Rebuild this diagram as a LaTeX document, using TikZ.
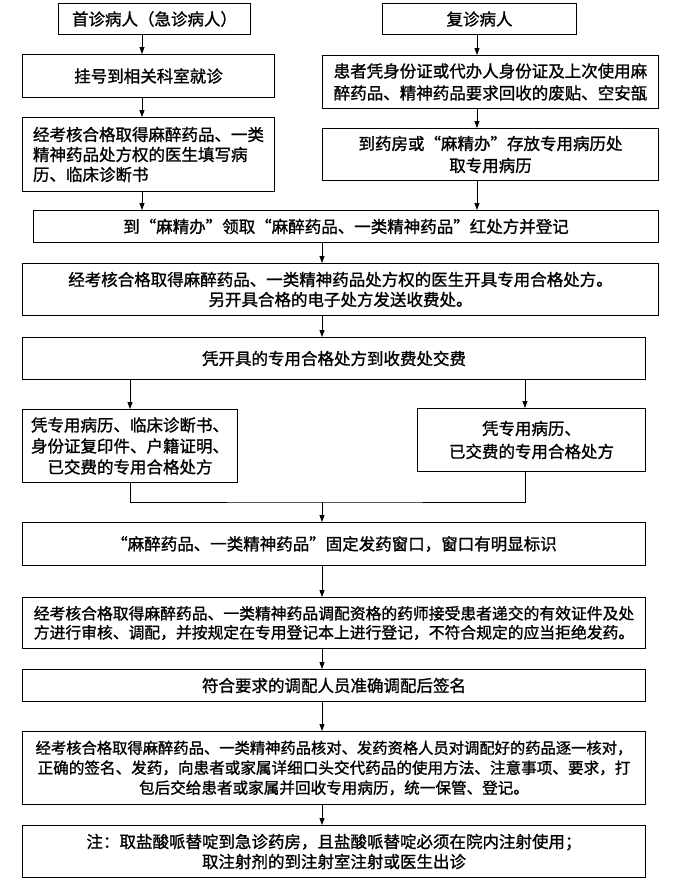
\documentclass[tikz,border=0pt]{standalone}
\usepackage{fontspec}
\setmainfont{Noto Sans CJK SC}[FakeBold=1.2]
\usetikzlibrary{arrows.meta}
\tikzset{
  box/.style={draw, line width=1pt, inner sep=0pt, anchor=north west, align=center,
    font=\fontsize{16.5}{20}\selectfont},
  arr/.style={line width=0.8pt, -{Triangle[width=5pt,length=7pt]}},
  ln/.style={line width=0.8pt}
}
\begin{document}
\begin{tikzpicture}[x=1pt,y=-1pt]
\useasboundingbox (0,0) rectangle (677,895);
\fill[white] (0,0) rectangle (677,895);
\coordinate (cL) at (142,0);
\coordinate (cR) at (477,0);
\coordinate (cM) at (322,0);
\coordinate (cA) at (130,0);
\coordinate (cB) at (525,0);

\node[box, minimum width=192pt, minimum height=31pt] (b1) at (58,3) {首诊病人（急诊病人）};
\node[box, minimum width=252pt, minimum height=43pt] (b2) at (22,54) {挂号到相关科室就诊};
\node[box, minimum width=252pt, minimum height=74pt, align=left] (b3) at (22,117)
  {经考核合格取得麻醉药品、一类\\精神药品处方权的医生填写病\\历、临床诊断书};
\node[box, minimum width=194pt, minimum height=31pt] (b4) at (382,3) {复诊病人};
\node[box, minimum width=336pt, minimum height=53pt, font=\fontsize{16.5}{22}\selectfont] (b5) at (322,55)
  {患者凭身份证或代办人身份证及上次使用麻\\醉药品、精神药品要求回收的废贴、空安瓿};
\node[box, minimum width=336pt, minimum height=52pt, font=\fontsize{16.5}{22}\selectfont] (b6) at (322,128)
  {到药房或“麻精办”存放专用病历处\\取专用病历};
\node[box, minimum width=625pt, minimum height=32pt] (b7) at (33,210)
  {到“麻精办”领取“麻醉药品、一类精神药品”红处方并登记};
\node[box, minimum width=636pt, minimum height=52pt] (b8) at (22,263)
  {经考核合格取得麻醉药品、一类精神药品处方权的医生开具专用合格处方。\\另开具合格的电子处方发送收费处。};
\node[box, minimum width=623pt, minimum height=42pt] (b9) at (22,337)
  {凭开具的专用合格处方到收费处交费};
\node[box, minimum width=215pt, minimum height=73pt, font=\fontsize{16.5}{21}\selectfont] (b10) at (22,409)
  {凭专用病历、临床诊断书、\\身份证复印件、户籍证明、\\已交费的专用合格处方};
\node[box, minimum width=228pt, minimum height=63pt, font=\fontsize{16.5}{23}\selectfont] (b11) at (417,408)
  {凭专用病历、\\已交费的专用合格处方};
\node[box, minimum width=623pt, minimum height=43pt] (b12) at (22,522)
  {“麻醉药品、一类精神药品”固定发药窗口，窗口有明显标识};
\node[box, minimum width=623pt, minimum height=51pt, align=left, font=\fontsize{15.8}{19}\selectfont] (b13) at (22,597)
  {经考核合格取得麻醉药品、一类精神药品调配资格的药师接受患者递交的有效证件及处\\方进行审核、调配，并按规定在专用登记本上进行登记，不符合规定的应当拒绝发药。};
\node[box, minimum width=623pt, minimum height=32pt] (b14) at (22,669)
  {符合要求的调配人员准确调配后签名};
\node[box, minimum width=623pt, minimum height=73pt, font=\fontsize{15.6}{20}\selectfont] (b15) at (22,731)
  {{\fontsize{15.3}{20}\selectfont 经考核合格取得麻醉药品、一类精神药品核对、发药资格人员对调配好的药品逐一核对，}\\正确的签名、发药，向患者或家属详细口头交代药品的使用方法、注意事项、要求，打\\包后交给患者或家属并回收专用病历，统一保管、登记。};
\node[box, minimum width=623pt, minimum height=52pt] (b16) at (22,825)
  {注：取盐酸哌替啶到急诊药房，且盐酸哌替啶必须在院内注射使用；\\取注射剂的到注射室注射或医生出诊};

\draw[arr] (b1.south -| cL) -- (b2.north -| cL);
\draw[arr] (b2.south -| cL) -- (b3.north -| cL);
\draw[arr] (b3.south -| cL) -- (b7.north -| cL);
\draw[arr] (b4.south -| cR) -- (b5.north -| cR);
\draw[arr] (b5.south -| cR) -- (b6.north -| cR);
\draw[arr] (b6.south -| cR) -- (b7.north -| cR);
\draw[arr] (b7.south -| cM) -- (b8.north -| cM);
\draw[arr] (b8.south -| cM) -- (b9.north -| cM);
\draw[arr] (b9.south -| cA) -- (b10.north -| cA);
\draw[arr] (b9.south -| cB) -- (b11.north -| cB);
\coordinate (m) at (322,502);
\draw[ln] (b10.south -| cA) |- (m) -| (b11.south -| cB);
\draw[arr] (m) -- (b12.north -| cM);
\draw[arr] (b12.south -| cM) -- (b13.north -| cM);
\draw[arr] (b13.south -| cM) -- (b14.north -| cM);
\draw[arr] (b14.south -| cM) -- (b15.north -| cM);
\draw[arr] (b15.south -| cM) -- (b16.north -| cM);
\end{tikzpicture}
\end{document}
